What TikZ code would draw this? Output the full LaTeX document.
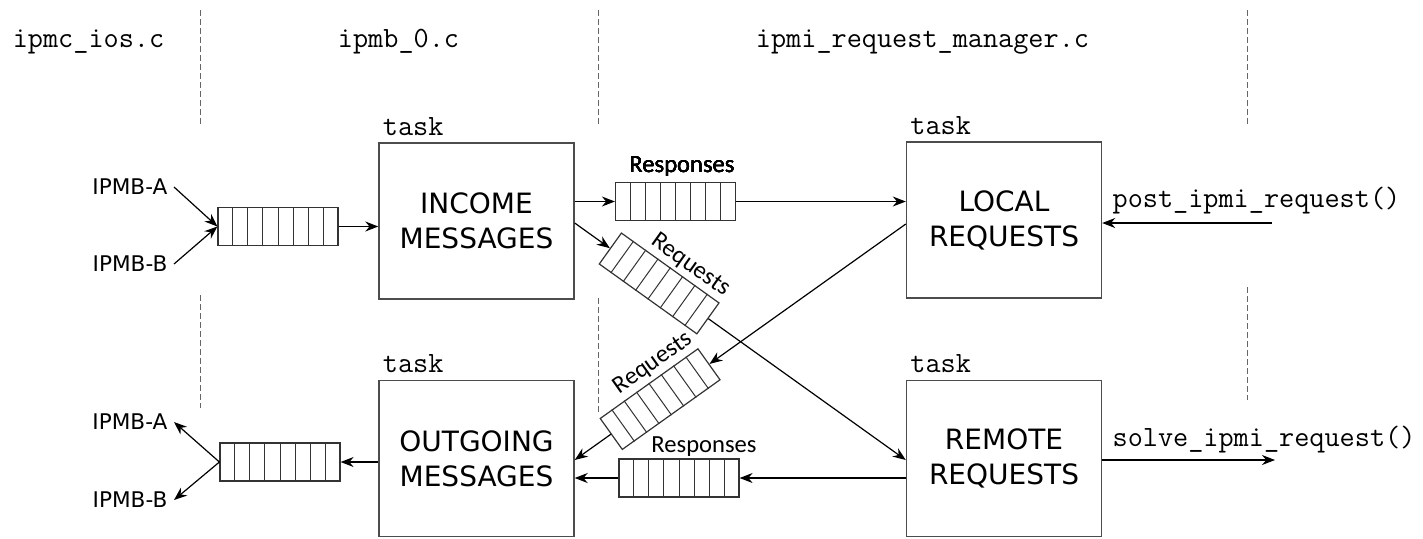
\documentclass[tikz,border=0pt]{standalone}
\usepackage{fontspec}
\newfontfamily\boxfont{DejaVu Sans}
\newfontfamily\qfont{Carlito}
\usetikzlibrary{calc, arrows.meta}

\tikzset{
    taskbox/.style={draw=black!70, line width=0.7pt, minimum width=97.5pt, minimum height=78pt,
        align=center, font=\boxfont\fontsize{14}{17.5}\selectfont},
    qbox/.style={draw=black!80, line width=0.6pt, minimum width=60pt, minimum height=19pt, inner sep=0pt},
    qlabel/.style={inner sep=1.5pt, font=\qfont\fontsize{12.3}{14}\selectfont},
    monotext/.style={inner sep=0pt, font=\ttfamily\fontsize{14.7}{16}\selectfont},
    ipmb/.style={inner sep=3pt, font=\boxfont\fontsize{10.8}{12}\selectfont},
    divider/.style={draw=black!60, dash pattern=on 3pt off 1.5pt, line width=0.5pt},
}
\newcommand\qcells[1]{%
    \foreach \k in {1,...,7}
        \draw[black!80, line width=0.5pt] ($(#1.north west)!{\k/8}!(#1.north east)$) -- ($(#1.south west)!{\k/8}!(#1.south east)$);}

\begin{document}
\begin{tikzpicture}[x=0.5pt, y=-0.5pt, line width=0.6pt, >={Stealth[length=6.5pt,width=5pt]}]
        \useasboundingbox (0,0) rectangle (1423,538);

        % source files and dividers
        \node[monotext, anchor=base] (fios) at (88.5,47) {ipmc\_ios.c};
        \node[monotext, anchor=base] (fipmb) at (398.5,47) {ipmb\_0.c};
        \node[monotext, anchor=base] (fmgr) at (922.5,47) {ipmi\_request\_manager.c};
        \foreach \x in {200, 598, 1247}
            \draw[divider] (\x,10) -- (\x,125);
        \draw[divider] (200,295) -- (200,408);
        \draw[divider] (598,298) -- (598,412);
        \draw[divider] (1247,287) -- (1247,400);

        % tasks
        \node[taskbox] (income) at (476.5,221) {INCOME\\MESSAGES};
        \node[taskbox] (local) at (1004,220) {LOCAL\\REQUESTS};
        \node[taskbox] (outgoing) at (476.5,458.5) {OUTGOING\\MESSAGES};
        \node[taskbox] (remote) at (1004,458.5) {REMOTE\\REQUESTS};
        \foreach \b in {income, local, outgoing, remote}
            \node[monotext, anchor=base west, xshift=2pt, yshift=3.5pt] at (\b.north west) {task};

        % queues
        \node[qbox] (qin) at (278,226.5) {};
        \node[qbox] (qout) at (280,462) {};
        \node[qbox] (resp1) at (675.5,201.5) {};
        \node[qbox] (resp2) at (679,478) {};
        \coordinate (d1s) at (income.east |- 0,223);
        \coordinate (d1e) at (remote.west |- 0,460);
        \coordinate (d2s) at (local.west |- 0,224);
        \coordinate (d2e) at (outgoing.east |- 0,460);
        \path (d1s) -- (d1e) node[qbox, sloped, pos=0.255] (req1) {};
        \path (d2s) -- (d2e) node[qbox, sloped, pos=0.742] (req2) {};
        \foreach \q in {qin, qout, resp1, resp2, req1, req2}
            \qcells{\q}
        \node[qlabel, anchor=base] at (682,172) {Responses};
        \node[qlabel, anchor=base] at (704,452) {Responses};
        \node[qlabel, anchor=south, rotate=-35.4] at ($(req1.north)!0.25!(req1.north east)$) {Requests};
        \node[qlabel, anchor=south, rotate=35.3] at ($(req2.north)!0.25!(req2.north east)$) {Requests};

        % IPMB in
        \node[ipmb, anchor=east] (ina) at (174,187) {IPMB-A};
        \node[ipmb, anchor=east] (inb) at (174,264) {IPMB-B};
        \draw[->] (ina.east) -- (qin.west);
        \draw[->] (inb.east) -- (qin.west);
        \draw[->] (qin.east) -- (income.west |- qin.east);

        % IPMB out
        \node[ipmb, anchor=east] (outa) at (174,422) {IPMB-A};
        \node[ipmb, anchor=east] (outb) at (174,500) {IPMB-B};
        \draw[->] (outgoing.west |- qout.east) -- (qout.east);
        \draw[->] (qout.west) -- (outa.east);
        \draw[->] (qout.west) -- (outb.east);

        % responses and requests
        \draw[->] (income.east |- resp1.west) -- (resp1.west);
        \draw[->] (resp1.east) -- (local.west |- resp1.east);
        \draw[->] (remote.west |- resp2.east) -- (resp2.east);
        \draw[->] (resp2.west) -- (outgoing.east |- resp2.west);
        \draw[->] (d1s) -- (req1.west);
        \draw[->] (req1.east) -- (d1e);
        \draw[->] (d2s) -- (req2.east);
        \draw[->] (req2.west) -- (d2e);

        % api calls
        \coordinate (postsrc) at (1272,223);
        \coordinate (solvedst) at (1275,460);
        \node[monotext, anchor=base west] (post) at (1112,207) {post\_ipmi\_request()};
        \node[monotext, anchor=base west] (solve) at (1112,446) {solve\_ipmi\_request()};
        \draw[->] (postsrc) -- (local.east |- postsrc);
        \draw[->] (remote.east |- solvedst) -- (solvedst);
    \end{tikzpicture}
\end{document}
